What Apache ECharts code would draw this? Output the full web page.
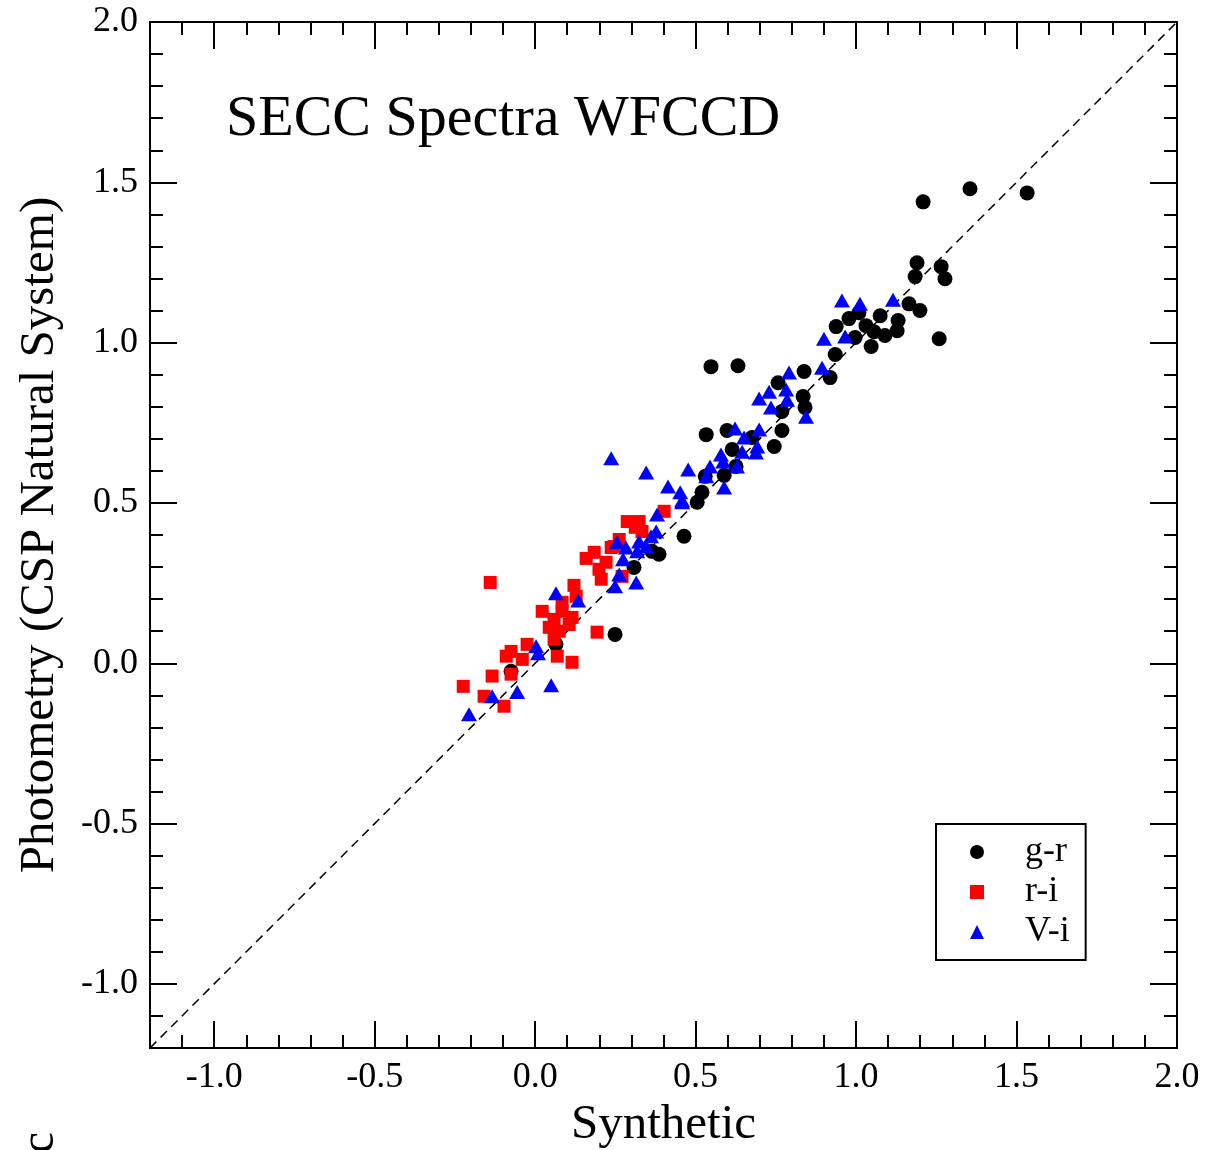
<!DOCTYPE html>
<html>
<head>
<meta charset="utf-8">
<script src="https://cdn.jsdelivr.net/npm/echarts@6/dist/echarts.min.js"></script>
<style>html,body{margin:0;padding:0;background:#fff}#c{width:1206px;height:1150px}</style>
</head>
<body>
<div id="c"></div>
<script>
// g-r (black circles): [synthetic, photometry]
const grData = [
[1.533,1.467],[1.355,1.480],[1.209,1.439],[1.190,1.249],[1.184,1.206],[1.265,1.237],[1.277,1.199],
[1.165,1.121],[1.199,1.100],[1.259,1.012],[1.075,1.084],[1.131,1.069],[1.128,1.037],[1.090,1.022],
[1.031,1.053],[1.056,1.034],[1.047,0.988],[0.978,1.075],[1.009,1.093],[0.938,1.050],[0.997,1.016],
[0.935,0.963],[0.919,0.891],[0.838,0.910],[0.757,0.875],[0.835,0.832],[0.841,0.798],[0.769,0.785],
[0.769,0.726],[0.745,0.676],[0.548,0.925],[0.632,0.928],[0.533,0.713],[0.598,0.726],[0.676,0.704],
[0.614,0.667],[0.626,0.614],[0.589,0.586],[0.530,0.583],[0.520,0.533],[0.505,0.502],[0.464,0.396],
[0.364,0.349],[0.386,0.340],[0.308,0.299],[0.249,0.090],[0.065,0.059],[-0.075,-0.025]
];
// r-i (red squares)
const riData = [
[-0.140,0.252],[0.287,0.442],[0.324,0.442],[0.402,0.474],[0.333,0.411],[0.262,0.386],[0.246,0.364],
[0.184,0.346],[0.159,0.327],[0.221,0.315],[0.199,0.293],[0.206,0.262],[0.271,0.271],[0.121,0.243],
[0.128,0.209],[0.084,0.190],[0.022,0.162],[0.084,0.162],[0.115,0.143],[0.044,0.112],[0.075,0.100],
[0.059,0.075],[0.193,0.097],[-0.025,0.059],[-0.075,0.037],[-0.090,0.022],[-0.040,0.012],[0.069,0.022],
[0.115,0.003],[-0.134,-0.040],[-0.075,-0.034],[-0.224,-0.072],[-0.159,-0.103],[-0.097,-0.134],
[0.106,0.121],[0.059,0.137],[0.237,0.361],[0.312,0.424]
];
// V-i (blue triangles)
const viData = [
[-0.206,-0.159],[-0.134,-0.103],[-0.056,-0.090],[0.050,-0.069],[0.003,0.053],[0.009,0.031],[0.065,0.218],
[0.134,0.196],[0.249,0.240],[0.315,0.252],[0.262,0.277],[0.274,0.324],[0.255,0.377],[0.283,0.361],
[0.324,0.380],[0.318,0.349],[0.346,0.364],[0.361,0.396],[0.377,0.411],[0.380,0.464],[0.458,0.502],
[0.237,0.639],[0.346,0.595],[0.414,0.551],[0.452,0.533],[0.458,0.508],[0.477,0.604],[0.533,0.583],
[0.545,0.614],[0.589,0.548],[0.586,0.629],[0.579,0.651],[0.629,0.614],[0.645,0.660],[0.688,0.657],
[0.692,0.676],[0.651,0.704],[0.623,0.732],[0.698,0.729],[0.844,0.769],[0.735,0.798],[0.698,0.826],
[0.729,0.847],[0.782,0.854],[0.785,0.822],[0.791,0.907],[0.894,0.922],[0.900,1.012],[0.966,1.019],
[0.956,1.131],[1.012,1.121],[1.115,1.134]
];
const identityLine = [[-1.2,-1.2],[2.0,2.0]];
const majorTicks = [-1.0,-0.5,0.0,0.5,1.0,1.5,2.0];
const minorTicks = [-1.1,-0.9,-0.8,-0.7,-0.6,-0.4,-0.3,-0.2,-0.1,0.1,0.2,0.3,0.4,0.6,0.7,0.8,0.9,1.1,1.2,1.3,1.4,1.6,1.7,1.8,1.9];
const seriesNames = ['g-r','r-i','V-i'];
const axisMin = -1.2, axisMax = 2.0;

const FONT = 'Liberation Serif';
function mkAxis(pos, major, withLabel, extra) {
  const a = {
    type: 'value', position: pos, min: axisMin, max: axisMax,
    splitLine: {show: false},
    axisLine: {show: major, onZero: false, lineStyle: {color: '#000', width: 2}},
    axisTick: {show: true, inside: true, length: major ? 27 : 13, customValues: major ? majorTicks : minorTicks,
      lineStyle: {color: '#000', width: 2}},
    axisLabel: {show: withLabel, customValues: majorTicks, formatter: v => v.toFixed(1),
      color: '#000', fontFamily: FONT, fontSize: 36, margin: 12}
  };
  return Object.assign(a, extra || {});
}
const chart = echarts.init(document.getElementById('c'), null, {renderer: 'canvas'});
chart.setOption({
  backgroundColor: '#fff',
  animation: false,
  title: {text: 'SECC Spectra WFCCD', left: 226, top: 91, padding: 0,
    textStyle: {fontFamily: FONT, fontSize: 58, fontWeight: 'normal', color: '#000'}},
  grid: {left: 150, right: 29, top: 22, bottom: 102, show: true, borderColor: '#000', borderWidth: 2,
    containLabel: false, outerBoundsMode: 'none'},
  legend: {
    orient: 'vertical', left: 936, top: 824, padding: [10, 16, 10, 34],
    borderColor: '#000', borderWidth: 2, itemWidth: 14, itemHeight: 14, itemGap: 4,
    data: [{name: 'g-r', icon: 'circle'}, {name: 'r-i', icon: 'rect'}, {name: 'V-i', icon: 'triangle'}],
    textStyle: {fontFamily: FONT, fontSize: 36, color: '#000', padding: [0, 0, 0, 36]}
  },
  xAxis: [
    mkAxis('bottom', true, true, {name: 'Synthetic', nameLocation: 'middle', nameGap: 47,
      nameTextStyle: {fontFamily: FONT, fontSize: 49, color: '#000'}}),
    mkAxis('bottom', false, false),
    mkAxis('top', true, false),
    mkAxis('top', false, false)
  ],
  yAxis: [
    mkAxis('left', true, true, {name: 'Photometry (CSP Natural System)', nameLocation: 'middle', nameGap: 85,
      nameTextStyle: {fontFamily: FONT, fontSize: 49, color: '#000'}}),
    mkAxis('left', false, false),
    mkAxis('right', true, false),
    mkAxis('right', false, false)
  ],
  graphic: [{type: 'text', left: 16, top: 1132, rotation: Math.PI / 2,
    style: {text: 'c', font: '48px "Liberation Serif"', fill: '#000'}}],
  series: [
    {type: 'line', data: identityLine, symbol: 'none', silent: true, z: 1,
      lineStyle: {color: '#000', width: 1.5, type: [9, 6]}},
    {name: seriesNames[0], type: 'scatter', data: grData, symbol: 'circle', symbolSize: 15,
      itemStyle: {color: '#000', opacity: 1}, z: 2},
    {name: seriesNames[1], type: 'scatter', data: riData, symbol: 'rect', symbolSize: 13,
      itemStyle: {color: '#ff0000', opacity: 1}, z: 3},
    {name: seriesNames[2], type: 'scatter', data: viData, symbol: 'triangle', symbolSize: [16, 14],
      itemStyle: {color: '#0000ff', opacity: 1}, z: 4}
  ]
});
</script>
</body>
</html>
